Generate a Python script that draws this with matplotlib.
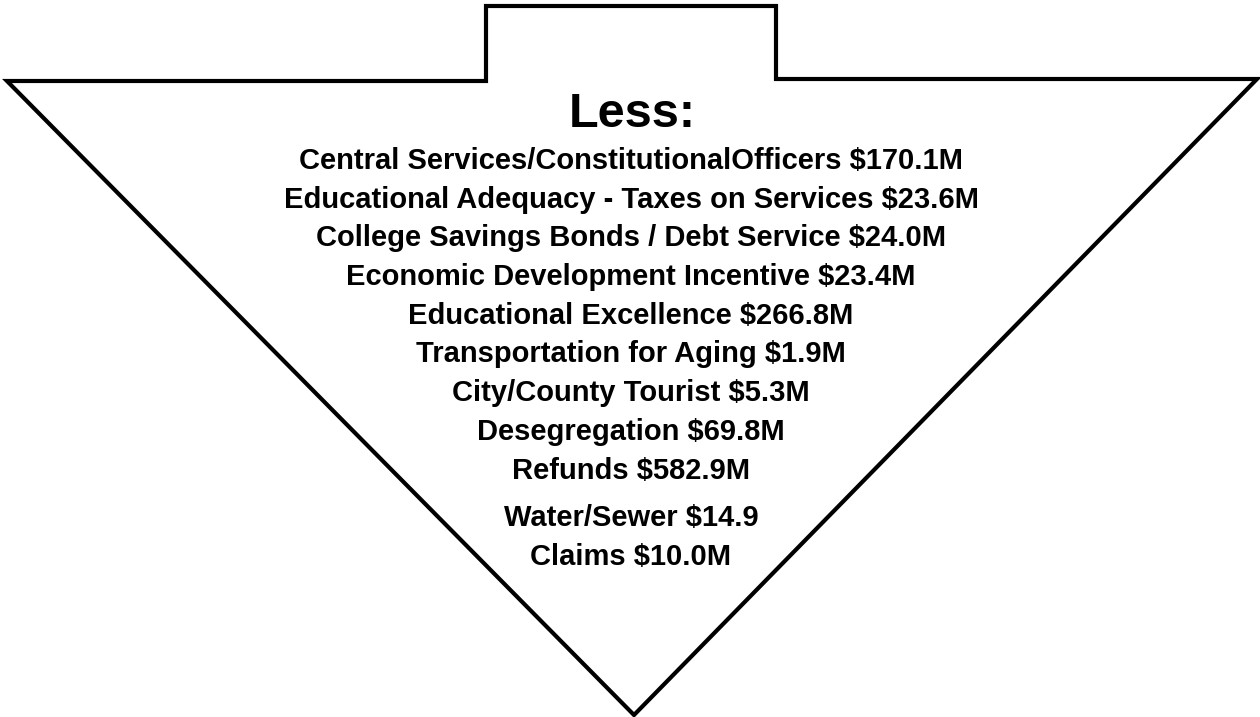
import matplotlib.pyplot as plt
from matplotlib.patches import Polygon

# deductions listed inside the arrow
items = ['Central Services/ConstitutionalOfficers',
         'Educational Adequacy - Taxes on Services',
         'College Savings Bonds / Debt Service',
         'Economic Development Incentive',
         'Educational Excellence',
         'Transportation for Aging',
         'City/County Tourist',
         'Desegregation',
         'Refunds',
         'Water/Sewer',
         'Claims']
amounts = ['$170.1M', '$23.6M', '$24.0M', '$23.4M', '$266.8M', '$1.9M',
           '$5.3M', '$69.8M', '$582.9M', '$14.9', '$10.0M']
heading = 'Less:'

plt.rcParams['font.family'] = ['Liberation Sans', 'DejaVu Sans']

fig = plt.figure(figsize=(12.6, 7.17), dpi=100)
ax = fig.add_axes([0, 0, 1, 1])
ax.set_xlim(0, 1260)
ax.set_ylim(717, 0)
ax.axis('off')

# arrow outline (pixel coords of the picture)
arrow = [(7, 81), (486, 81), (486, 6), (776, 6), (776, 79),
         (1257, 79), (634, 715)]
ax.add_patch(Polygon(arrow, closed=True, facecolor='white', edgecolor='black',
                     linewidth=3, joinstyle='miter'))

ax.text(632, 127, heading, ha='center', va='baseline', fontsize=35,
        fontweight='bold')

y = 169
for name, amt in zip(items, amounts):
    ax.text(631, y, f'{name} {amt}', ha='center', va='baseline',
            fontsize=21, fontweight='bold')
    y += 38.7
    if name == 'Refunds':
        y += 9

fig.savefig('out.png', dpi=100)
